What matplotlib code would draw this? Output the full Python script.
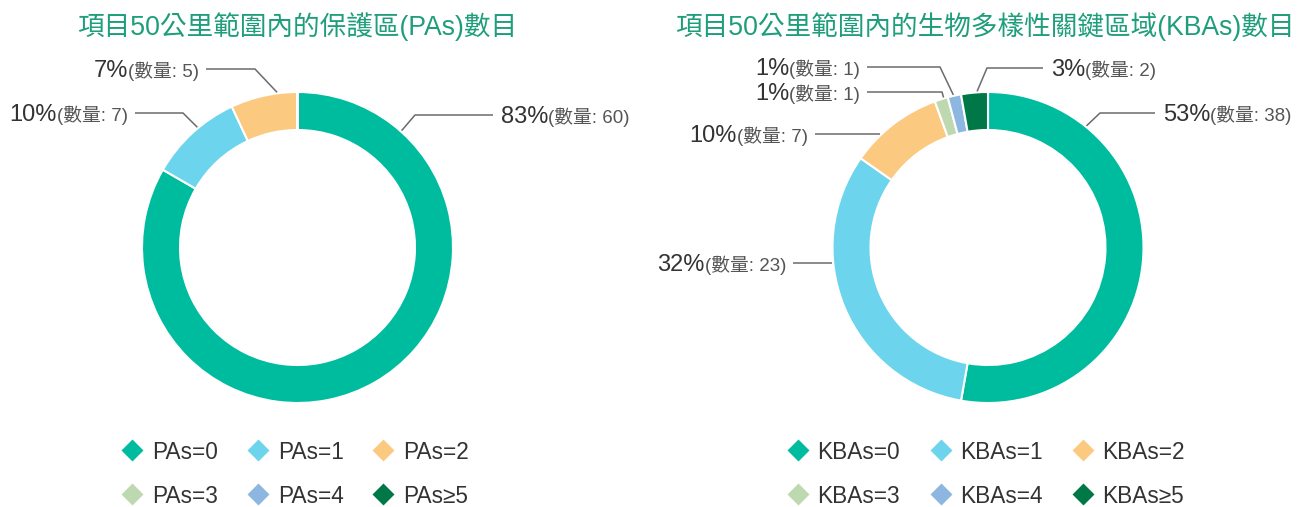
import matplotlib
matplotlib.use("Agg")
import matplotlib.pyplot as plt
import numpy as np

W, H = 1298, 507

# Data
pa_labels = ["PAs=0", "PAs=1", "PAs=2", "PAs=3", "PAs=4", "PAs≥5"]
pa_counts = [60, 7, 5, 0, 0, 0]
kba_labels = ["KBAs=0", "KBAs=1", "KBAs=2", "KBAs=3", "KBAs=4", "KBAs≥5"]
kba_counts = [38, 23, 7, 1, 1, 2]
titles = ["項目50公里範圍內的保護區(PAs)數目",
          "項目50公里範圍內的生物多樣性關鍵區域(KBAs)數目"]
count_word = "數量"

colors = ["#00BC9E", "#6CD4EC", "#FBCA80", "#BED8AF", "#8DB7E0", "#007746"]
title_color = "#1E9E7A"
text_dark = "#333333"
text_gray = "#555555"
line_gray = "#6b6b6b"
FAM = ["Liberation Sans", "Noto Sans CJK TC", "DejaVu Sans"]

R_OUT = 155.5
RING = 38

# callout layout: index -> (anchor angle clockwise from top, elbow px or None, line end x, side of text)
charts = [
    dict(cx=297.5, cy=247.5, counts=pa_counts, labels=pa_labels, title=titles[0],
         title_x=297,
         callouts={0: (41.7, (415, 115), 493, "right"),
                   1: (-39.8, (183, 113), 135, "left"),
                   2: (-7.5, (255, 69), 206, "left")},
         legend_x=[132, 258, 383], text_dx=20),
    dict(cx=988, cy=247.5, counts=kba_counts, labels=kba_labels, title=titles[1],
         title_x=985,
         callouts={0: (39.0, (1100, 113), 1155, "right"),
                   1: (-95.7, None, 793, "left"),
                   2: (-43.6, None, 815, "left"),
                   3: (-16.5, (942, 92), 867, "left"),
                   4: (-12.8, (940, 67), 867, "left"),
                   5: (-4.0, (987, 68), 1043, "right")},
         legend_x=[798, 941, 1083], text_dx=19),
]
legend_rows = [450, 494]

fig = plt.figure(figsize=(W / 100, H / 100), dpi=100)
ax = fig.add_axes([0, 0, 1, 1])


def Y(py):
    return H - py


for ch in charts:
    cx, cy = ch["cx"], ch["cy"]
    counts = ch["counts"]
    ax.pie(counts, colors=colors, startangle=90, counterclock=False,
           radius=R_OUT, center=(cx, Y(cy)),
           wedgeprops=dict(width=RING, edgecolor="white", linewidth=1.5))
    ax.text(ch["title_x"], Y(27), ch["title"], ha="center", va="center",
            fontsize=19.2, color=title_color, family=FAM, fontweight="light")

ax.set_xlim(0, W)
ax.set_ylim(0, H)
ax.set_aspect("auto")
ax.axis("off")

renderer = fig.canvas.get_renderer()


def text_width(t):
    bb = t.get_window_extent(renderer=renderer)
    return bb.width


for ch in charts:
    cx, cy = ch["cx"], ch["cy"]
    counts = ch["counts"]
    total = sum(counts)
    for i, (ang, elbow, xend, side) in ch["callouts"].items():
        v = counts[i]
        pct = int(round(v / total * 100))
        a = np.deg2rad(ang)
        axp = cx + (R_OUT + 1) * np.sin(a)
        ayp = cy - (R_OUT + 1) * np.cos(a)
        if elbow is None:
            xs = [axp, xend]
            ys = [ayp, ayp]
            ly = ayp
        else:
            xs = [axp, elbow[0], xend]
            ys = [ayp, elbow[1], elbow[1]]
            ly = elbow[1]
        ax.plot(xs, [Y(y) for y in ys], color=line_gray, lw=1.1,
                solid_capstyle="butt")
        big = f"{pct}%"
        small = f"({count_word}: {v})"
        base = Y(ly) - 8.3
        if side == "right":
            x0 = xend + 8
            t1 = ax.text(x0, base, big, ha="left", va="baseline",
                         fontsize=17, color=text_dark, family=FAM)
            w = text_width(t1)
            ax.text(x0 + w, base, small, ha="left", va="baseline",
                    fontsize=13.5, color=text_gray, family=FAM)
        else:
            x1 = xend - 7
            t2 = ax.text(x1, base, small, ha="right", va="baseline",
                         fontsize=13.5, color=text_gray, family=FAM)
            w = text_width(t2)
            ax.text(x1 - w, base, big, ha="right", va="baseline",
                    fontsize=17, color=text_dark, family=FAM)

    # legend: two rows of three diamonds
    for i, lab in enumerate(ch["labels"]):
        r, c = divmod(i, 3)
        mx = ch["legend_x"][c]
        my = legend_rows[r]
        ax.scatter([mx], [Y(my)], marker="D", s=125, color=colors[i],
                   linewidths=0, zorder=3)
        ax.text(mx + ch["text_dx"], Y(my), lab, ha="left", va="center_baseline",
                fontsize=16.3, color=text_dark, family=FAM)

fig.savefig("out.png", dpi=100)
